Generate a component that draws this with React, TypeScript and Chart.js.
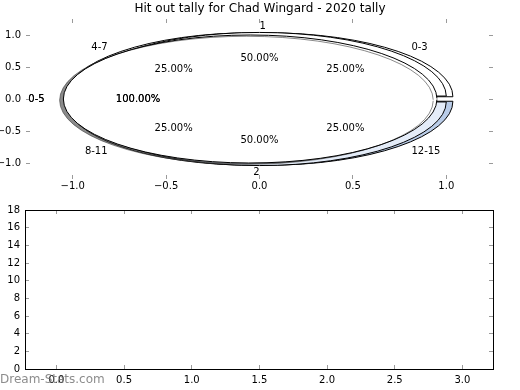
import React, { useEffect, useRef } from 'react';
import { Chart, registerables } from 'chart.js';

Chart.register(...registerables);
Chart.defaults.font.family = "'DejaVu Sans', sans-serif";
Chart.defaults.font.size = 10;
Chart.defaults.color = '#000';

// ---------- data ----------
const chartTitle = 'Hit out tally for Chad Wingard - 2020 tally';
const watermark = 'Dream-Stats.com';

const pieALabels = ['0-5'];
const pieAValues = [1];
const pieBLabels = ['1', '2'];
const pieBValues = [1, 1];
const pieCLabels = ['0-3', '4-7', '8-11', '12-15'];
const pieCValues = [1, 1, 1, 1];

const topXTicks = [-1, -0.5, 0, 0.5, 1];
const topYTicks = [-1, -0.5, 0, 0.5, 1];
const bottomXTicks = [0, 0.5, 1, 1.5, 2, 2.5, 3];
const bottomYTicks = [0, 2, 4, 6, 8, 10, 12, 14, 16, 18];

// ---------- style / layout ----------
const W = 520;
const TOP_H = 200;
const BOTTOM_TOP = 195;
const BOTTOM_H = 195;
const TOP_PAD = { left: 26, right: 27, top: 19, bottom: 21 };
const TOP_RANGE = 1.25;
const UNIT_Y = (TOP_H - TOP_PAD.top - TOP_PAD.bottom) / (2 * TOP_RANGE);
const UNIT_X = (W - TOP_PAD.left - TOP_PAD.right) / (2 * TOP_RANGE);
const SX = UNIT_X / UNIT_Y;
const TITLE_H = 12 * 1.2 + 2;

const fmt = (v: number, d: number) => Number(v).toFixed(d).replace('-', '\u2212');

const tickGrid = {
  display: true,
  drawOnChartArea: false,
  drawTicks: true,
  tickLength: -4,
  tickColor: '#9a9a9a',
  tickWidth: 1,
};

function setTicks(values: number[]) {
  return (s: any) => {
    s.ticks = values.map((v) => ({ value: v }));
  };
}

function stretchPlugin(opts: { shadow?: boolean; hideRadial?: boolean }) {
  return {
    id: 'ellipseStretch',
    beforeDatasetsDraw(chart: any) {
      const ctx = chart.ctx;
      const { left, right, top, bottom } = chart.chartArea;
      const cx = (left + right) / 2;
      const cy = (top + bottom) / 2;
      const base = ctx.getTransform();
      ctx.save();
      ctx.translate(cx, cy);
      ctx.scale(SX, 1);
      ctx.translate(-cx, -cy);
      if (opts.shadow) {
        ctx.shadowColor = 'rgba(60,60,60,0.6)';
        ctx.shadowOffsetX = -0.02 * UNIT_X;
        ctx.shadowOffsetY = 0.02 * UNIT_Y;
        ctx.shadowBlur = 0;
      }
      const proto: any = CanvasRenderingContext2D.prototype;
      ctx.stroke = function (...a: any[]) {
        this.save();
        this.setTransform(base);
        proto.stroke.apply(this, a);
        this.restore();
      };
      if (opts.hideRadial) {
        // a full (360°) wedge is only its outline: no radius to the centre
        ctx.lineTo = function (x: number, y: number) {
          this.moveTo(x, y);
        };
      }
    },
    afterDatasetsDraw(chart: any) {
      const ctx = chart.ctx;
      delete ctx.stroke;
      delete ctx.lineTo;
      ctx.restore();
    },
  };
}

function labelItems(chart: any) {
  const meta = chart.getDatasetMeta(0);
  const data = chart.data.datasets[0].data as number[];
  const total = data.reduce((a, b) => a + b, 0);
  const { left, right } = chart.chartArea;
  const cx = (left + right) / 2;
  return meta.data.map((arc: any, i: number) => {
    const p = arc.getProps(['x', 'y', 'startAngle', 'endAngle', 'outerRadius', 'circumference']);
    const mid = (p.startAngle + p.endAngle) / 2;
    const off = (arc.options.offset || 0) / 4;
    const fix = 1 - Math.sin(Math.min(Math.PI, p.circumference));
    const R = p.outerRadius + off * fix;
    const c = Math.cos(mid);
    const s = Math.sin(mid);
    const ex = p.x + c * off;
    const ey = p.y + s * off;
    const sx = (ux: number) => cx + (ux - cx) * SX;
    const align = Math.abs(c) < 1e-6 ? (s < 0 ? 'left' : 'right') : c > 0 ? 'left' : 'right';
    return {
      name: String(chart.data.labels[i]),
      nx: sx(ex + c * R * 1.1),
      ny: ey + s * R * 1.1,
      align,
      pct: ((data[i] / total) * 100).toFixed(2) + '%',
      px: sx(ex + c * R * 0.6),
      py: ey + s * R * 0.6,
    };
  });
}

function drawLabels(ctx: CanvasRenderingContext2D, items: any[], times: number) {
  ctx.save();
  ctx.font = "10px 'DejaVu Sans', sans-serif";
  ctx.fillStyle = '#000';
  ctx.textBaseline = 'middle';
  for (let k = 0; k < times; k++) {
    for (const it of items) {
      ctx.textAlign = it.align;
      ctx.fillText(it.name, it.nx, it.ny);
      ctx.textAlign = 'center';
      ctx.fillText(it.pct, it.px, it.py);
    }
  }
  ctx.restore();
}

function makePie(
  canvas: HTMLCanvasElement,
  labels: string[],
  values: number[],
  colors: string[],
  explode: number,
  rotation: number,
  reverse: boolean,
  extraPlugins: any[],
  pluginOpts: { shadow?: boolean; hideRadial?: boolean }
) {
  const l = reverse ? [...labels].reverse() : labels;
  const v = reverse ? [...values].reverse() : values;
  const c = reverse ? [...colors].reverse() : colors;
  const fullOrHalf = values.length <= 2;
  const shift = explode * UNIT_Y;
  return new Chart(canvas, {
    type: 'pie',
    data: {
      labels: l,
      datasets: [
        {
          data: v,
          backgroundColor: c,
          borderColor: '#000',
          borderWidth: 1,
          offset: shift * 4,
          hoverOffset: 0,
        },
      ],
    },
    options: {
      animation: false,
      responsive: true,
      maintainAspectRatio: false,
      events: [],
      radius: fullOrHalf ? UNIT_Y - shift : UNIT_Y,
      rotation,
      layout: { padding: TOP_PAD },
      plugins: {
        legend: { display: false },
        tooltip: { enabled: false },
        title: { display: false },
      },
    } as any,
    plugins: [stretchPlugin(pluginOpts), ...extraPlugins],
  });
}

export default function App() {
  const topRef = useRef<HTMLCanvasElement>(null);
  const cRef = useRef<HTMLCanvasElement>(null);
  const bRef = useRef<HTMLCanvasElement>(null);
  const aRef = useRef<HTMLCanvasElement>(null);
  const botRef = useRef<HTMLCanvasElement>(null);

  useEffect(() => {
    const charts: Chart[] = [];

    const topAxis = (pos: string, show: boolean, size: number, values: number[], pad: number) => ({
      type: 'linear',
      position: pos,
      min: -TOP_RANGE,
      max: TOP_RANGE,
      afterBuildTicks: setTicks(values),
      ticks: { display: show, callback: (v: any) => fmt(v, 1), padding: pad, maxRotation: 0, autoSkip: false },
      grid: tickGrid,
      border: { display: false },
      afterFit: (s: any) => {
        if (pos === 'top' || pos === 'bottom') s.height = size;
        else s.width = size;
      },
    });

    charts.push(
      new Chart(topRef.current!, {
        type: 'scatter',
        data: { datasets: [{ data: [] }] },
        options: {
          animation: false,
          responsive: true,
          maintainAspectRatio: false,
          events: [],
          plugins: {
            legend: { display: false },
            tooltip: { enabled: false },
            title: {
              display: true,
              text: chartTitle,
              color: '#000',
              font: { size: 12, weight: 'normal' },
              padding: { top: 2, bottom: 0 },
            },
          },
          scales: {
            x: topAxis('bottom', true, TOP_PAD.bottom, topXTicks, 5),
            x2: topAxis('top', false, TOP_PAD.top - TITLE_H, topXTicks, 5),
            y: topAxis('left', true, TOP_PAD.left, topYTicks, 9),
            y2: topAxis('right', false, TOP_PAD.right, topYTicks, 5),
          },
        } as any,
      })
    );

    const chartC = makePie(
      cRef.current!,
      pieCLabels,
      pieCValues,
      ['#ffffff', '#ffffff', '#ffffff', '#b9cce8'],
      0.05,
      90,
      true,
      [],
      {}
    );
    const chartB = makePie(bRef.current!, pieBLabels, pieBValues, ['#ffffff', '#e4ecf8'], 0.04, 270, false, [], {});
    charts.push(chartC, chartB);

    const labelPlugin = {
      id: 'pieLabels',
      afterDraw(chart: any) {
        const ctx = chart.ctx;
        drawLabels(ctx, labelItems(chartC), 1);
        drawLabels(ctx, labelItems(chartB), 1);
        drawLabels(ctx, labelItems(chart), 2);
      },
    };
    const chartA = makePie(aRef.current!, pieALabels, pieAValues, ['#ffffff'], 0.05, 90, false, [labelPlugin], {
      shadow: true,
      hideRadial: true,
    });
    charts.push(chartA);

    const botAxis = (pos: string, show: boolean, size: number, values: number[], min: number, max: number, d: number, pad: number) => ({
      type: 'linear',
      position: pos,
      min,
      max,
      afterBuildTicks: setTicks(values),
      ticks: { display: show, callback: (v: any) => fmt(v, d), padding: pad, maxRotation: 0, autoSkip: false },
      grid: tickGrid,
      border: { display: true, color: '#000', width: 1 },
      afterFit: (s: any) => {
        if (pos === 'top' || pos === 'bottom') s.height = size;
        else s.width = size;
      },
    });

    const watermarkPlugin = {
      id: 'watermark',
      afterDraw(chart: any) {
        const ctx = chart.ctx;
        ctx.save();
        ctx.font = "12px 'DejaVu Sans', sans-serif";
        ctx.fillStyle = 'rgba(120,120,120,0.85)';
        ctx.textAlign = 'left';
        ctx.textBaseline = 'middle';
        ctx.fillText(watermark, 0, 380 - BOTTOM_TOP);
        ctx.restore();
      },
    };

    charts.push(
      new Chart(botRef.current!, {
        type: 'scatter',
        data: { datasets: [{ data: [] }] },
        options: {
          animation: false,
          responsive: true,
          maintainAspectRatio: false,
          events: [],
          plugins: { legend: { display: false }, tooltip: { enabled: false } },
          scales: {
            x: botAxis('bottom', true, 21, bottomXTicks, -0.232, 3.226, 1, 9),
            x2: botAxis('top', false, 15, bottomXTicks, -0.232, 3.226, 1, 5),
            y: botAxis('left', true, 25, bottomYTicks, 0, 18, 0, 9),
            y2: botAxis('right', false, 27, bottomYTicks, 0, 18, 0, 5),
          },
        } as any,
        plugins: [watermarkPlugin],
      })
    );

    return () => charts.forEach((c) => c.destroy());
  }, []);

  const box = (top: number, h: number): React.CSSProperties => ({
    position: 'absolute',
    left: 0,
    top,
    width: W,
    height: h,
  });

  return (
    <div style={{ position: 'absolute', left: 0, top: 0, width: W, height: 390, background: '#fff' }}>
      <div style={box(0, TOP_H)}>
        <canvas ref={topRef} />
      </div>
      <div style={box(0, TOP_H)}>
        <canvas ref={cRef} />
      </div>
      <div style={box(0, TOP_H)}>
        <canvas ref={bRef} />
      </div>
      <div style={box(0, TOP_H)}>
        <canvas ref={aRef} />
      </div>
      <div style={box(BOTTOM_TOP, BOTTOM_H)}>
        <canvas ref={botRef} />
      </div>
    </div>
  );
}
